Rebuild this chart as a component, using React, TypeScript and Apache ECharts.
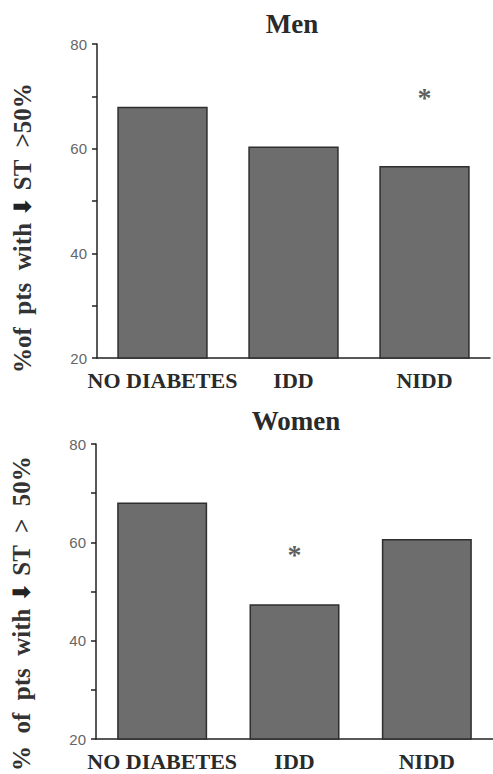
import React, { useEffect, useRef } from "react";
import * as echarts from "echarts";

const categories = ["NO DIABETES", "IDD", "NIDD"];
const menValues = [68.0, 60.4, 56.7];
const womenValues = [68.1, 47.4, 60.7];
const menStar = [{ category: "NIDD", value: 69.7 }];
const womenStar = [{ category: "IDD", value: 57.5 }];
const yTicks = [20, 40, 60, 80];
const titles = ["Men", "Women"];
const yNameParts = [
  ["%of  pts  with ", " ST  >50%"],
  ["%  of  pts  with ", " ST  >  50%"],
];

const serif = "'Liberation Serif', 'Times New Roman', serif";
const sans = "'Liberation Sans', Arial, sans-serif";

export default function App() {
  const ref = useRef<HTMLDivElement>(null);
  useEffect(() => {
    document.body.style.margin = "0";
    const chart = echarts.init(ref.current!, undefined, { renderer: "svg" });
    const grids = [
      { left: 97, top: 44, width: 393, height: 314 },
      { left: 96, top: 444, width: 397, height: 298 },
    ];
    const namePads = [54, 44];
    const xAxes = grids.map((_, i) => ({
      type: "category",
      gridIndex: i,
      data: categories,
      axisLine: { lineStyle: { color: "#222", width: 1.5 } },
      axisTick: { alignWithLabel: true, length: 5, lineStyle: { color: "#222", width: 1.5 } },
      axisLabel: {
        interval: 0,
        margin: 11,
        fontFamily: serif,
        fontWeight: "bold",
        fontSize: 22,
        color: "#2a2a2a",
      },
    }));
    const yAxes = grids.map((_, i) => ({
      type: "value",
      gridIndex: i,
      min: 20,
      max: 80,
      interval: 10,
      splitLine: { show: false },
      axisLine: { show: true, lineStyle: { color: "#222", width: 1.5 } },
      axisTick: { show: true, length: 5, lineStyle: { color: "#222", width: 1.5 } },
      axisLabel: {
        margin: 10,
        fontFamily: sans,
        fontSize: 15,
        color: "#666",
        formatter: (v: number) => (yTicks.includes(v) ? String(v) : ""),
      },
      name: `{a|${yNameParts[i][0]}}{b|\u2B07}{a|${yNameParts[i][1]}}`,
      nameLocation: "middle",
      nameGap: 62,
      nameTextStyle: {
        padding: [0, namePads[i], 0, 0],
        rich: {
          a: { fontFamily: serif, fontWeight: "bold", fontSize: 25, color: "#333" },
          b: { fontFamily: "'DejaVu Sans', sans-serif", fontWeight: "bold", fontSize: 24, color: "#222" },
        },
      },
    }));
    const barStyle = { color: "#6d6d6d", borderColor: "#2e2e2e", borderWidth: 1.5 };
    const starSeries = (data: { category: string; value: number }[], i: number) => ({
      type: "scatter",
      xAxisIndex: i,
      yAxisIndex: i,
      symbolSize: 0,
      data: data.map((d) => [d.category, d.value]),
      label: {
        show: true,
        position: "inside",
        formatter: "*",
        fontFamily: serif,
        fontWeight: "bold",
        fontSize: 28,
        color: "#333",
      },
    });
    chart.setOption({
      animation: false,
      backgroundColor: "#fff",
      title: [
        {
          text: titles[0],
          left: 287,
          top: 5,
          textAlign: "center",
          textStyle: { fontFamily: serif, fontWeight: "bold", fontSize: 27, color: "#2a2a2a" },
        },
        {
          text: titles[1],
          left: 291,
          top: 402,
          textAlign: "center",
          textStyle: { fontFamily: serif, fontWeight: "bold", fontSize: 27, color: "#2a2a2a" },
        },
      ],
      grid: grids,
      xAxis: xAxes,
      yAxis: yAxes,
      series: [
        {
          type: "bar",
          xAxisIndex: 0,
          yAxisIndex: 0,
          data: menValues,
          barWidth: "69%",
          itemStyle: barStyle,
        },
        {
          type: "bar",
          xAxisIndex: 1,
          yAxisIndex: 1,
          data: womenValues,
          barWidth: "68%",
          itemStyle: barStyle,
        },
        starSeries(menStar, 0),
        starSeries(womenStar, 1),
      ],
    });
    return () => chart.dispose();
  }, []);
  return <div ref={ref} style={{ width: 493, height: 774 }} />;
}
